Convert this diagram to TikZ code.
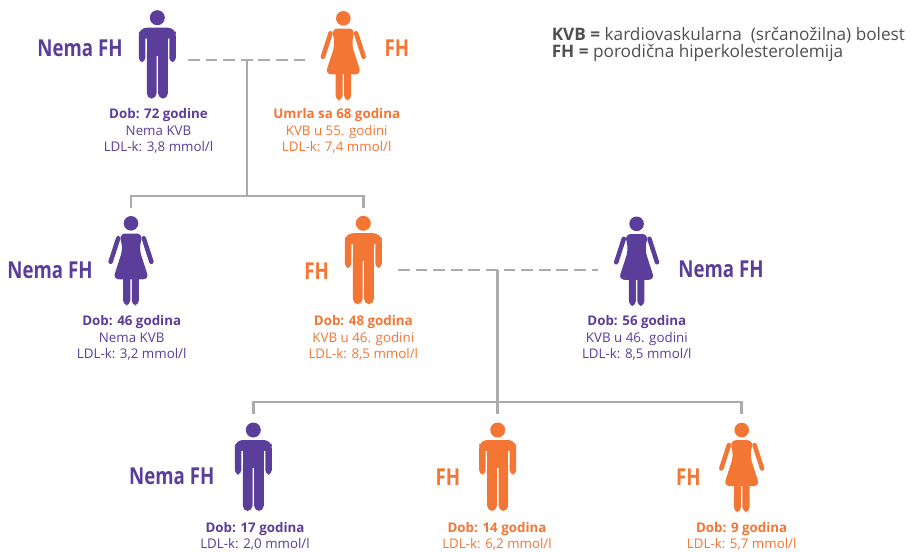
\documentclass[tikz,border=0pt]{standalone}
\usepackage{graphicx}
\usepackage{fontspec}
\setmainfont{Open Sans}
\definecolor{fhpurple}{RGB}{91,62,153}
\definecolor{fhorange}{RGB}{243,118,52}
\definecolor{linegray}{RGB}{172,172,172}
\definecolor{legendgray}{RGB}{80,80,80}
\tikzset{
  pics/malefig/.style={code={
    \fill[#1] (0,0) circle (7.5);
    \fill[#1,rounded corners=6] (-18.5,10) rectangle (18.5,21);
    \fill[#1,rounded corners=3.2] (-18.5,14) rectangle (-12,44.5);
    \fill[#1,rounded corners=3.2] (12,14) rectangle (18.5,44.5);
    \fill[#1] (-10.5,10) rectangle (10.5,38);
    \fill[#1,rounded corners=4] (-10.5,30) rectangle (-0.8,81);
    \fill[#1,rounded corners=4] (0.8,30) rectangle (10.5,81);
  }},
  pics/femalefig/.style={code={
    \fill[#1] (0,0) circle (7.3);
    \fill[#1,rounded corners=4.5] (-11.6,10.2) -- (11.6,10.2) -- (8.3,26) -- (18,56) -- (-18,56) -- (-8.3,26) -- cycle;
    \draw[#1,line width=3.4pt,line cap=round] (-12.8,15) -- (-20.4,38.5);
    \draw[#1,line width=3.4pt,line cap=round] (12.8,15) -- (20.4,38.5);
    \fill[#1,rounded corners=3.5] (-7.8,50) rectangle (-0.75,82);
    \fill[#1,rounded corners=3.5] (0.75,50) rectangle (7.8,82);
  }},
  status/.style={font=\fontsize{17.5}{20}\selectfont\bfseries, inner sep=0pt},
  info/.style={font=\fontsize{10}{12.4}\selectfont, align=center, inner sep=0pt},
  solidline/.style={draw=linegray, line width=2.2pt},
  dashline/.style={draw=linegray, line width=2.2pt, dash pattern=on 8.8pt off 4.4pt},
}
\begin{document}
\begin{tikzpicture}[x=0.75pt,y=-0.75pt]
\useasboundingbox[fill=white] (0,0) rectangle (916,551);

% connectors
\coordinate (d1a) at (188,60);
\coordinate (d1b) at (306,60);
\coordinate (d1m) at (247,60);
\coordinate (h1m) at (247,196);
\coordinate (h1l) at (131,196);
\coordinate (h1r) at (363.3,196);
\coordinate (s1l) at (131,208);
\coordinate (s1r) at (363.3,208);
\draw[dashline] (d1a) -- (d1b);
\draw[solidline] (d1m) -- (h1m);
\draw[solidline] (s1l) -- (h1l) -- (h1r) -- (s1r);

\coordinate (d2a) at (398,270);
\coordinate (d2b) at (598,270);
\coordinate (d2m) at (497.7,270);
\coordinate (s2m) at (497.7,414);
\coordinate (h2l) at (253.3,402);
\coordinate (h2r) at (741.7,402);
\coordinate (s2l) at (253.3,414);
\coordinate (s2r) at (741.7,414);
\draw[dashline] (d2a) -- (d2b);
\draw[solidline] (d2m) -- (s2m);
\draw[solidline] (s2l) -- (h2l) -- (h2r) -- (s2r);

% figures
\pic at (157.3,17.7) {malefig=fhpurple};
\pic at (343.3,18.3) {femalefig=fhorange};
\pic at (131,223.3) {femalefig=fhpurple};
\pic at (363.3,223.3) {malefig=fhorange};
\pic at (636.6,223.8) {femalefig=fhpurple};
\pic at (253.3,430) {malefig=fhpurple};
\pic at (497.7,430) {malefig=fhorange};
\pic at (741.7,430) {femalefig=fhorange};

% status labels
\node[status, text=fhpurple] (l1) at (80,48) {\scalebox{0.8}[1]{Nema FH}};
\node[status, text=fhorange] (l2) at (397,48) {\scalebox{0.8}[1]{FH}};
\node[status, text=fhpurple] (l3) at (50,270.7) {\scalebox{0.8}[1]{Nema FH}};
\node[status, text=fhorange] (l4) at (316.7,270.7) {\scalebox{0.8}[1]{FH}};
\node[status, text=fhpurple] (l5) at (721,269.5) {\scalebox{0.8}[1]{Nema FH}};
\node[status, text=fhpurple] (l6) at (171.7,476.7) {\scalebox{0.8}[1]{Nema FH}};
\node[status, text=fhorange] (l7) at (448,476.7) {\scalebox{0.8}[1]{FH}};
\node[status, text=fhorange] (l8) at (688.5,476.7) {\scalebox{0.8}[1]{FH}};

% info texts
\node[info, text=fhpurple] (i1) at (158.5,131) {\textbf{Dob: 72 godine}\\Nema KVB\\LDL-k: 3,8 mmol/l};
\node[info, text=fhorange] (i2) at (336.7,131) {\textbf{Umrla sa 68 godina}\\KVB u 55. godini\\LDL-k: 7,4 mmol/l};
\node[info, text=fhpurple] (i3) at (131.7,338) {\textbf{Dob: 46 godina}\\Nema KVB\\LDL-k: 3,2 mmol/l};
\node[info, text=fhorange] (i4) at (363.3,338) {\textbf{Dob: 48 godina}\\KVB u 46. godini\\LDL-k: 8,5 mmol/l};
\node[info, text=fhpurple] (i5) at (636.8,338) {\textbf{Dob: 56 godina}\\KVB u 46. godini\\LDL-k: 8,5 mmol/l};
\node[info, text=fhpurple] (i6) at (255,536.5) {\textbf{Dob: 17 godina}\\LDL-k: 2,0 mmol/l};
\node[info, text=fhorange] (i7) at (497,536.5) {\textbf{Dob: 14 godina}\\LDL-k: 6,2 mmol/l};
\node[info, text=fhorange] (i8) at (741.7,536.5) {\textbf{Dob: 9 godina}\\LDL-k: 5,7 mmol/l};

% legend
\node[anchor=west, inner sep=0pt, align=left, text=legendgray, font=\fontsize{12.9}{13}\selectfont] (legend) at (551.5,44.5)
  {\textbf{KVB =} kardiovaskularna\ \ (srčanožilna) bolest\\\textbf{FH =} porodična hiperkolesterolemija};
\end{tikzpicture}
\end{document}
